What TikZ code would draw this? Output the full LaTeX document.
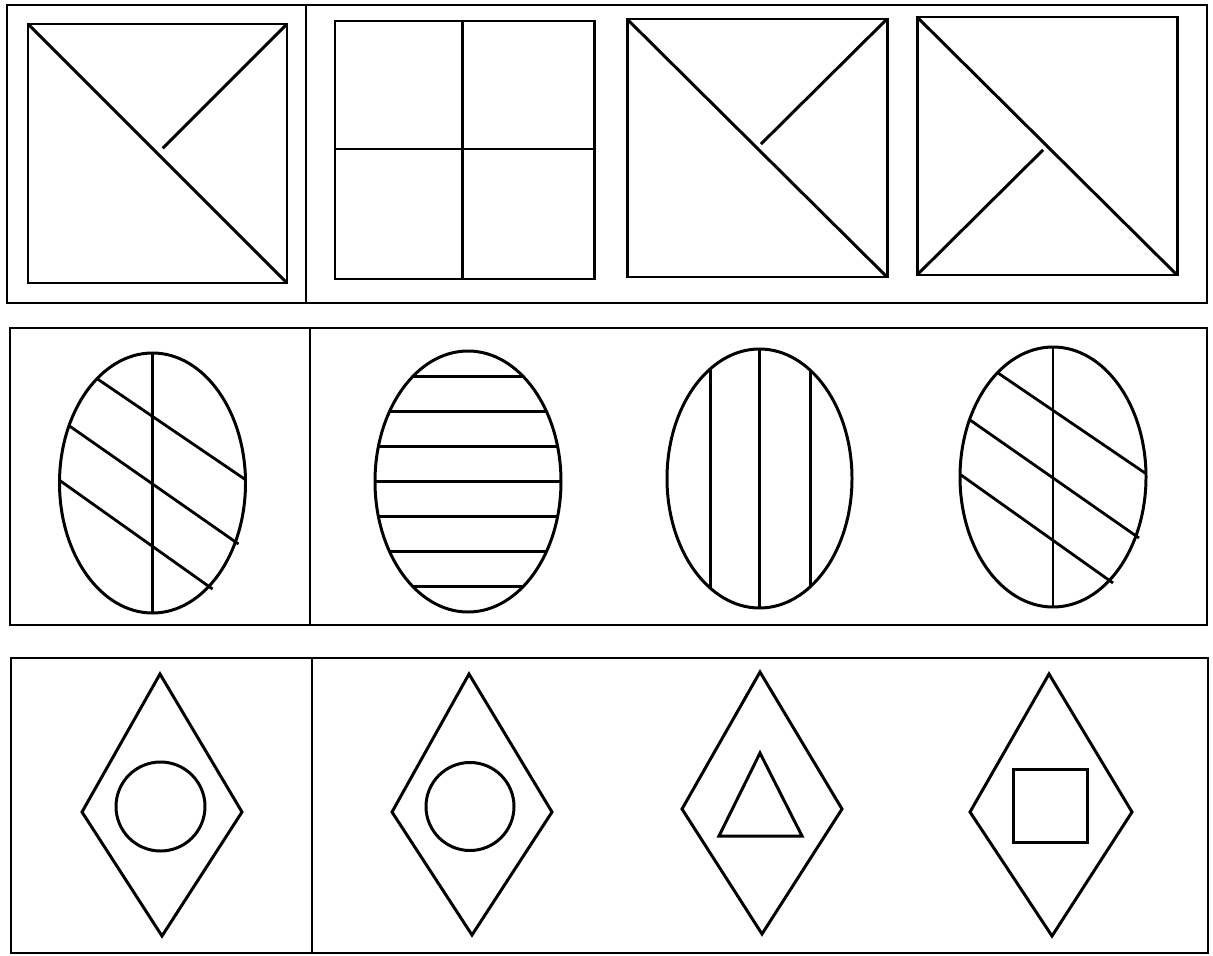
\documentclass[tikz,border=0pt]{standalone}
\usetikzlibrary{calc}
\tikzset{
  panel/.style={draw=black, line width=1.5pt},
  figline/.style={draw=black, line width=1.7pt, line join=miter},
  hatchline/.style={draw=black, line width=1.6pt}
}
\begin{document}
\begin{tikzpicture}[x=0.02cm, y=-0.02cm]
  \useasboundingbox (0,0) rectangle (1213,956);
  \path[fill=white] (0,0) rectangle (1213,956);

  % Panels with divider
  \draw[panel] (7,5) rectangle (1207,303);
  \draw[panel] (306,5) -- (306,303);
  \draw[panel] (10,328) rectangle (1207,625);
  \draw[panel] (310,328) -- (310,625);
  \draw[panel] (11,658) rectangle (1208,953);
  \draw[panel] (312,658) -- (312,953);

  % Row 1: squares
  \draw[figline] (28,24) rectangle (287,283);
  \draw[figline] (28,24) -- (287,283);
  \draw[figline] (287,24) -- ($(287,24)!0.96!(157.5,153.5)$);

  \draw[figline] (335,21) rectangle (594,279);
  \draw[figline] (462,21) -- (462,279);
  \draw[figline] (335,149) -- (594,149);

  \draw[figline] (627,19) rectangle (887,277);
  \draw[figline] (627,19) -- (887,277);
  \draw[figline] (887,19) -- ($(887,19)!0.97!(757,148)$);

  \draw[figline] (917,17) rectangle (1177,275);
  \draw[figline] (917,17) -- (1177,275);
  \draw[figline] (917,275) -- ($(917,275)!0.97!(1047,146)$);

  % Row 2: ellipses, slanted hatching
  \foreach \cx/\cy in {152.5/483, 1053/477} {
    \begin{scope}[shift={(\cx,\cy)}]
      \draw[figline] (0,0) ellipse [x radius=93, y radius=130];
      \draw[hatchline] (0,-130) -- (0,130);
      \draw[hatchline] (-55,-104) -- (92,-4);
      \draw[hatchline] (-83,-57) -- (86,61);
      \draw[hatchline] (-92,-2) -- (60,106);
    \end{scope}
  }

  % Row 2: horizontal stripes
  \begin{scope}[shift={(468,481.5)}]
    \begin{scope}
      \clip (0,0) ellipse [x radius=93, y radius=130.5];
      \foreach \dy in {-105,-70,...,105}
        \draw[hatchline] (-100,\dy) -- (100,\dy);
    \end{scope}
    \draw[figline] (0,0) ellipse [x radius=93, y radius=130.5];
  \end{scope}

  % Row 2: vertical stripes
  \begin{scope}[shift={(759.5,478.5)}]
    \begin{scope}
      \clip (0,0) ellipse [x radius=92.5, y radius=129.5];
      \foreach \dx in {-49,0,51}
        \draw[hatchline] (\dx,-140) -- (\dx,140);
    \end{scope}
    \draw[figline] (0,0) ellipse [x radius=92.5, y radius=129.5];
  \end{scope}

  % Row 3: diamonds with inner shapes
  \draw[figline] (160,674) -- (242,812) -- (162,936) -- (82,812) -- cycle;
  \draw[figline] (160.5,806.5) circle [radius=44.5];

  \draw[figline] (469,674) -- (552,812) -- (472,935) -- (392,812) -- cycle;
  \draw[figline] (470,806.5) circle [radius=44];

  \draw[figline] (760,672) -- (842,809) -- (762,934) -- (682,809) -- cycle;
  \draw[figline] (760,753) -- (802,836) -- (719,836) -- cycle;

  \draw[figline] (1049,674) -- (1132,812) -- (1052,936) -- (970,812) -- cycle;
  \draw[figline] (1013,769) rectangle (1087,842);
\end{tikzpicture}
\end{document}
